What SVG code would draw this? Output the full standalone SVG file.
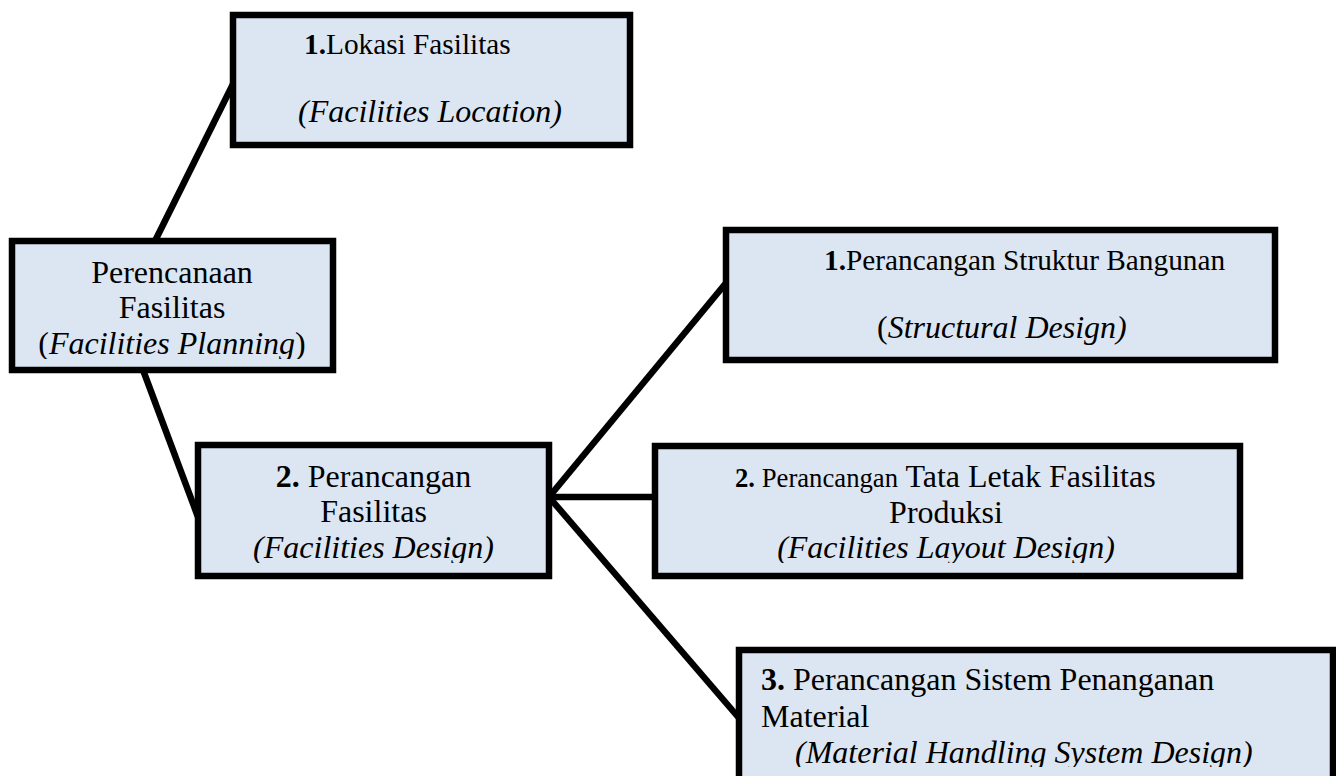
<svg xmlns="http://www.w3.org/2000/svg" width="1336" height="776" viewBox="0 0 1336 776">
  <style>
    .box { fill: #dce6f2; stroke: #000; stroke-width: 6.5; }
    .link { stroke: #000; stroke-width: 6.5; fill: none; stroke-linecap: butt; }
    text { font-family: "Liberation Serif", "Times New Roman", serif; font-size: 32px; fill: #000; }
    .mid { text-anchor: middle; }
    .it { font-style: italic; }
    .b { font-weight: bold; }
    .sm { font-size: 29.3px; }
    .xs { font-size: 26.7px; }
  </style>
  <defs>
    <!-- text areas are cut off at the inner margin of their frames -->
    <clipPath id="clip-plan"><rect x="15" y="244" width="315" height="115"/></clipPath>
    <clipPath id="clip-design"><rect x="201" y="448" width="345" height="115"/></clipPath>
    <clipPath id="clip-layout"><rect x="658" y="449" width="579" height="114"/></clipPath>
    <clipPath id="clip-mhs"><rect x="742" y="653" width="594" height="114"/></clipPath>
  </defs>
  <rect width="1336" height="776" fill="#fff"/>

  <g id="connectors">
    <line class="link" x1="233" y1="84" x2="155" y2="241"/>
    <line class="link" x1="143" y1="370" x2="198" y2="517"/>
    <line class="link" x1="549" y1="497" x2="726" y2="283"/>
    <line class="link" x1="549" y1="497" x2="655" y2="497"/>
    <line class="link" x1="549" y1="497" x2="739" y2="718"/>
  </g>

  <g id="node-location">
    <rect class="box" x="233" y="15" width="397" height="130"/>
    <text class="sm" x="304" y="54"><tspan class="b">1.</tspan>Lokasi Fasilitas</text>
    <text class="it" x="298" y="122">(Facilities Location)</text>
  </g>

  <g id="node-planning">
    <rect class="box" x="12" y="241" width="321" height="129"/>
    <g clip-path="url(#clip-plan)">
      <text class="mid" x="172" y="283">Perencanaan</text>
      <text class="mid" x="172" y="318">Fasilitas</text>
      <text class="mid" x="172" y="354">(<tspan class="it">Facilities Planning</tspan>)</text>
    </g>
  </g>

  <g id="node-design">
    <rect class="box" x="198" y="445" width="351" height="131"/>
    <g clip-path="url(#clip-design)">
      <text class="mid" x="373.5" y="487"><tspan class="b">2.</tspan> Perancangan</text>
      <text class="mid" x="373.5" y="522">Fasilitas</text>
      <text class="mid it" x="373.5" y="558">(Facilities Design)</text>
    </g>
  </g>

  <g id="node-structural">
    <rect class="box" x="726" y="230" width="549" height="130"/>
    <text class="sm" x="824" y="270"><tspan class="b">1.</tspan>Perancangan Struktur Bangunan</text>
    <text x="877" y="338">(<tspan class="it">Structural Design)</tspan></text>
  </g>

  <g id="node-layout">
    <rect class="box" x="655" y="446" width="585" height="130"/>
    <g clip-path="url(#clip-layout)">
      <text x="735" y="487"><tspan class="b xs">2.</tspan><tspan class="xs"> Perancangan</tspan> Tata Letak Fasilitas</text>
      <text class="mid" x="946" y="523">Produksi</text>
      <text class="mid it" x="946" y="558">(Facilities Layout Design)</text>
    </g>
  </g>

  <g id="node-material-handling">
    <rect class="box" x="739" y="650" width="594" height="150"/>
    <g clip-path="url(#clip-mhs)">
      <text x="761" y="690"><tspan class="b">3.</tspan> Perancangan Sistem Penanganan</text>
      <text x="761" y="727">Material</text>
      <text class="it" x="795" y="763">(Material Handling System Design)</text>
    </g>
  </g>
</svg>
